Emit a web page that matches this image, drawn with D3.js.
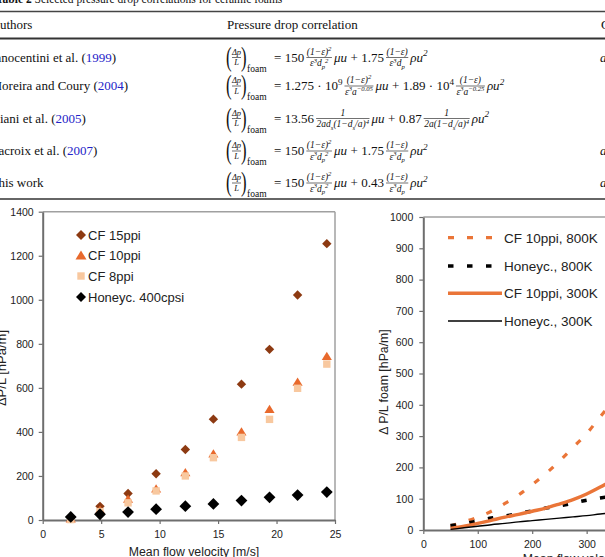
<!DOCTYPE html>
<html>
<head>
<meta charset="utf-8">
<script src="https://cdn.jsdelivr.net/npm/d3@7"></script>
<style>
body { margin: 0; background: #fff; }
svg { display: block; }
text { font-family: "Liberation Sans", Arial, sans-serif; fill: #222; }
.tbl text { font-family: "Liberation Serif", "Times New Roman", serif; fill: #111; }
</style>
</head>
<body>
<div id="fig"></div>
<script>
// ---- table (top, cropped) ----
const authorNames = ["Innocentini et al. (", "Moreira and Coury (", "Giani et al. (", "Lacroix et al. (", "This work"];
const authorYears = ["1999", "2004", "2005", "2007", ""];
const coefViscous = ["150", "1.275 · 10^{9}", "13.56", "150", "150"];
const fracViscous = [
    ["(1−ε)^{2}", "ε^{3}d_{p}^{2}"],
    ["(1−ε)^{2}", "ε^{3}a^{−0.05}"],
    ["1", "2ad_{s}(1−d_{s}/a)^{4}"],
    ["(1−ε)^{2}", "ε^{3}d_{p}^{2}"],
    ["(1−ε)^{2}", "ε^{3}d_{p}^{2}"]
];
const coefInertial = ["1.75", "1.89 · 10^{4}", "0.87", "1.75", "0.43"];
const fracInertial = [
    ["(1−ε)", "ε^{3}d_{p}"],
    ["(1−ε)", "ε^{3}a^{−0.25}"],
    ["1", "2a(1−d_{s}/a)^{4}"],
    ["(1−ε)", "ε^{3}d_{p}"],
    ["(1−ε)", "ε^{3}d_{p}"]
];
const lastCol = ["a", "", "", "a", "a"];

// ---- left chart: measured pressure drop ----
const velocity = [2.4, 4.9, 7.3, 9.7, 12.2, 14.6, 17.0, 19.4, 21.8, 24.3];
const cf15ppi = [10, 62, 120, 210, 320, 458, 617, 775, 1022, 1255];
const cf10ppi = [5, 45, 95, 142, 215, 300, 400, 503, 626, 743];
const cf8ppi = [2, 38, 78, 132, 200, 283, 375, 457, 598, 708];
const honey400 = [14, 26, 36, 49, 63, 73, 88, 103, 113, 127];
const pointNames = ["CF 15ppi", "CF 10ppi", "CF 8ppi", "Honeyc. 400cpsi"];
const velTicks = [0, 5, 10, 15, 20, 25];
const dpTicks = [0, 200, 400, 600, 800, 1000, 1200, 1400];

// ---- right chart: correlations at two temperatures ----
const flowVel = [50, 75, 100, 125, 150, 175, 200, 225, 250, 275, 300, 325, 350];
const cf10at800 = [13, 26, 41, 60, 85, 112, 145, 180, 220, 264, 308, 362, 415];
const honeyAt800 = [14, 20, 29, 38, 45, 52, 61, 70, 77, 86, 95, 102, 110];
const cf10at300 = [5, 12, 21, 31, 41, 50, 60, 70, 83, 97, 115, 137, 162];
const honeyAt300 = [2, 7, 12, 17, 21, 26, 30, 34, 38, 42, 46, 51, 55];
const lineNames = ["CF 10ppi, 800K", "Honeyc., 800K", "CF 10ppi, 300K", "Honeyc., 300K"];
const flowTicks = [0, 100, 200, 300, 400, 500, 600];
const foamTicks = [0, 100, 200, 300, 400, 500, 600, 700, 800, 900, 1000];

const W = 605, H = 557;
const svg = d3.select("#fig").append("svg").attr("width", W).attr("height", H);

const brown = "#8d3a12", orange = "#e8692c", peach = "#f8c89f", lineOrange = "#ea7538";
const axisGrey = "#6e6e6e", frameGrey = "#a0a0a0";

// small helper: text with ^{..} / _{..} markup as tspans
function rich(sel, s, size) {
    const re = /([_^])\{([^}]*)\}/g;
    let last = 0, m, cur = 0;
    const add = (str, off, small) => {
        if (!str) return;
        sel.append("tspan")
            .attr("dy", (off - cur) * size)
            .attr("font-size", small ? size * 0.7 : size)
            .text(str);
        cur = off;
    };
    while ((m = re.exec(s))) {
        add(s.slice(last, m.index), 0, false);
        add(m[2], m[1] === "^" ? -0.4 : 0.28, true);
        last = re.lastIndex;
    }
    add(s.slice(last), 0, false);
    return sel;
}

// ================= table =================
let tbl = svg.append("g").attr("class", "tbl");
tbl.append("text").attr("x", -4).attr("y", 3).attr("font-size", 11.5)
    .html("<tspan font-weight='bold'>Table 2</tspan>  Selected pressure drop correlations for ceramic foams");

tbl.append("line").attr("x1", 0).attr("x2", W).attr("y1", 11.5).attr("y2", 11.5)
    .attr("stroke", "#444").attr("stroke-width", 1.4);
tbl.append("line").attr("x1", 0).attr("x2", W).attr("y1", 38.5).attr("y2", 38.5)
    .attr("stroke", "#333").attr("stroke-width", 2.2);
tbl.append("line").attr("x1", 0).attr("x2", W).attr("y1", 199).attr("y2", 199)
    .attr("stroke", "#666").attr("stroke-width", 2.2);

tbl.append("text").attr("x", -9.5).attr("y", 28.5).attr("font-size", 13).text("Authors");
tbl.append("text").attr("x", 227).attr("y", 28.5).attr("font-size", 13).text("Pressure drop correlation");
tbl.append("text").attr("x", 601).attr("y", 28.5).attr("font-size", 13).text("Comments");

const rowBase = [61.5, 90, 122.5, 155, 187];
const fs = 13, ffs = 9.5;

function putText(g, x, yb, str, size, italic) {
    let t = g.append("text").attr("x", x).attr("y", yb).attr("font-size", size);
    if (italic) t.attr("font-style", "italic");
    rich(t, str, size);
    return t.node().getComputedTextLength();
}

function putFrac(g, x, yb, num, den) {
    let n = g.append("text").attr("y", yb - 7).attr("font-size", ffs).attr("text-anchor", "middle").attr("font-style", "italic");
    rich(n, num, ffs);
    let d = g.append("text").attr("y", yb + 4.8).attr("font-size", ffs).attr("text-anchor", "middle").attr("font-style", "italic");
    rich(d, den, ffs);
    let w = Math.max(n.node().getComputedTextLength(), d.node().getComputedTextLength()) + 1;
    n.attr("x", x + w / 2);
    d.attr("x", x + w / 2);
    g.append("line").attr("x1", x).attr("x2", x + w).attr("y1", yb - 4).attr("y2", yb - 4)
        .attr("stroke", "#111").attr("stroke-width", 0.6);
    return w;
}

authorNames.forEach((name, i) => {
    let yb = rowBase[i];
    let a = tbl.append("text").attr("x", -9.5).attr("y", yb).attr("font-size", fs);
    a.append("tspan").text(name);
    if (authorYears[i]) {
        a.append("tspan").attr("fill", "#2323c8").text(authorYears[i]);
        a.append("tspan").text(")");
    }

    let g = tbl.append("g");
    // (Δp/L)_foam
    g.append("text").attr("transform", "translate(226," + (yb + 4) + ") scale(0.62,1)")
        .attr("font-size", 27).text("(");
    g.append("text").attr("x", 236.5).attr("y", yb - 7).attr("font-size", 8.5)
        .attr("text-anchor", "middle").attr("font-style", "italic").text("Δp");
    g.append("text").attr("x", 236.5).attr("y", yb + 3.5).attr("font-size", 8.5)
        .attr("text-anchor", "middle").attr("font-style", "italic").text("L");
    g.append("line").attr("x1", 232).attr("x2", 241).attr("y1", yb - 4).attr("y2", yb - 4)
        .attr("stroke", "#111").attr("stroke-width", 0.6);
    g.append("text").attr("transform", "translate(241," + (yb + 4) + ") scale(0.62,1)")
        .attr("font-size", 27).text(")");
    g.append("text").attr("x", 247).attr("y", yb + 10).attr("font-size", 9.5).text("foam");

    let x = 274;
    x += putText(g, x, yb, "=", fs) + 3.5;
    x += putText(g, x, yb, coefViscous[i], fs) + 2;
    x += putFrac(g, x, yb, fracViscous[i][0], fracViscous[i][1]) + 2;
    x += putText(g, x, yb, "μu", fs, true) + 3.5;
    x += putText(g, x, yb, "+", fs) + 3.5;
    x += putText(g, x, yb, coefInertial[i], fs) + 2;
    x += putFrac(g, x, yb, fracInertial[i][0], fracInertial[i][1]) + 2;
    putText(g, x, yb, "ρu^{2}", fs, true);

    if (lastCol[i]) {
        tbl.append("text").attr("x", 600).attr("y", yb).attr("font-size", fs)
            .attr("font-style", "italic").text(lastCol[i]);
    }
});

// ================= left chart =================
let x1 = d3.scaleLinear().domain([0, 25]).range([42.7, 335]);
let y1 = d3.scaleLinear().domain([0, 1400]).range([520, 211.7]);

let c1 = svg.append("g");
c1.append("line").attr("x1", x1(0)).attr("x2", x1(25)).attr("y1", y1(1400)).attr("y2", y1(1400))
    .attr("stroke", frameGrey).attr("stroke-width", 1.5);
c1.append("line").attr("x1", x1(25)).attr("x2", x1(25)).attr("y1", y1(1400)).attr("y2", y1(0))
    .attr("stroke", frameGrey).attr("stroke-width", 1.5);

function styleAxis(g) {
    g.select(".domain").attr("stroke", axisGrey).attr("stroke-width", 2);
    g.selectAll(".tick line").attr("stroke", axisGrey).attr("stroke-width", 1.2);
    g.selectAll(".tick text").attr("font-size", 10.5).attr("fill", "#333")
        .attr("font-family", "Liberation Sans, Arial, sans-serif");
}

const fmt = d3.format("d");

c1.append("g").attr("transform", "translate(0," + y1(0) + ")")
    .call(d3.axisBottom(x1).tickValues(velTicks).tickFormat(fmt).tickSize(4).tickSizeOuter(0).tickPadding(7))
    .call(styleAxis);
c1.append("g").attr("transform", "translate(" + x1(0) + ",0)")
    .call(d3.axisLeft(y1).tickValues(dpTicks).tickFormat(fmt).tickSize(4).tickSizeOuter(0).tickPadding(5))
    .call(styleAxis);

c1.append("text").attr("x", 194).attr("y", 556).attr("text-anchor", "middle")
    .attr("font-size", 12.3).attr("fill", "#333").text("Mean flow velocity [m/s]");
c1.append("text").attr("transform", "translate(5.5,368) rotate(-90)").attr("text-anchor", "middle")
    .attr("font-size", 13).attr("fill", "#333").text("ΔP/L [hPa/m]");

function diamond(cx, cy, r) {
    return "M" + cx + "," + (cy - r) + "L" + (cx + r) + "," + cy + "L" + cx + "," + (cy + r) + "L" + (cx - r) + "," + cy + "Z";
}
function triangle(cx, cy, r) {
    return "M" + cx + "," + (cy - r) + "L" + (cx + r * 1.1) + "," + (cy + r * 0.8) + "L" + (cx - r * 1.1) + "," + (cy + r * 0.8) + "Z";
}
function square(cx, cy, r) {
    return "M" + (cx - r) + "," + (cy - r) + "h" + 2 * r + "v" + 2 * r + "h" + (-2 * r) + "Z";
}

const pointSeries = [
    {vals: cf15ppi, shape: diamond, r: 4.7, color: brown},
    {vals: cf10ppi, shape: triangle, r: 4.6, color: orange},
    {vals: cf8ppi, shape: square, r: 3.7, color: peach},
    {vals: honey400, shape: diamond, r: 5.9, color: "#000"}
];

pointSeries.forEach((s) => {
    c1.append("g").selectAll("path")
        .data(velocity.map((v, i) => [v, s.vals[i]]))
        .enter().append("path")
        .attr("d", (d) => s.shape(x1(d[0]), y1(d[1]), s.r))
        .attr("fill", s.color);
});

// legend left
const legY1 = [235, 255.5, 276, 297];
pointSeries.forEach((s, i) => {
    c1.append("path").attr("d", s.shape(81, legY1[i], i === 2 ? 3.7 : 5))
        .attr("fill", s.color);
    c1.append("text").attr("x", 88).attr("y", legY1[i] + 4.7).attr("font-size", 13)
        .attr("fill", "#222").text(pointNames[i]);
});

// ================= right chart =================
let x2 = d3.scaleLinear().domain([0, 600]).range([423.3, 750]);
let y2 = d3.scaleLinear().domain([0, 1000]).range([530, 217]);

let c2 = svg.append("g");
c2.append("line").attr("x1", x2(0)).attr("x2", x2(600)).attr("y1", y2(1000)).attr("y2", y2(1000))
    .attr("stroke", frameGrey).attr("stroke-width", 1.5);

c2.append("g").attr("transform", "translate(0," + y2(0) + ")")
    .call(d3.axisBottom(x2).tickValues(flowTicks).tickFormat(fmt).tickSize(4).tickSizeOuter(0).tickPadding(7))
    .call(styleAxis);
c2.append("g").attr("transform", "translate(" + x2(0) + ",0)")
    .call(d3.axisLeft(y2).tickValues(foamTicks).tickFormat(fmt).tickSize(4).tickSizeOuter(0).tickPadding(6))
    .call(styleAxis);

c2.append("text").attr("x", 588).attr("y", 563).attr("text-anchor", "middle")
    .attr("font-size", 12.3).attr("fill", "#333").text("Mean flow velocity [m/s]");
c2.append("text").attr("transform", "translate(388,382) rotate(-90)").attr("text-anchor", "middle")
    .attr("font-size", 12.3).attr("fill", "#333").text("Δ P/L foam [hPa/m]");

const lineSeries = [
    {vals: cf10at800, color: lineOrange, w: 3.2, dash: "6,13"},
    {vals: honeyAt800, color: "#000", w: 3.6, dash: "5.5,13.5"},
    {vals: cf10at300, color: lineOrange, w: 3.4, dash: null},
    {vals: honeyAt300, color: "#000", w: 1.4, dash: null}
];

let line2 = d3.line()
    .x((d) => x2(d[0]))
    .y((d) => y2(d[1]))
    .curve(d3.curveMonotoneX);

lineSeries.forEach((s) => {
    c2.append("path")
        .datum(flowVel.map((v, i) => [v, s.vals[i]]))
        .attr("d", line2)
        .attr("fill", "none")
        .attr("stroke", s.color)
        .attr("stroke-width", s.w)
        .attr("stroke-dasharray", s.dash);
});

// legend right
const legY2 = [237.7, 266, 293.3, 321];
lineSeries.forEach((s, i) => {
    c2.append("line").attr("x1", 448).attr("x2", 502).attr("y1", legY2[i]).attr("y2", legY2[i])
        .attr("stroke", s.color).attr("stroke-width", s.w).attr("stroke-dasharray", s.dash);
    c2.append("text").attr("x", 504).attr("y", legY2[i] + 4.8).attr("font-size", 13.5)
        .attr("fill", "#222").text(lineNames[i]);
});
</script>
</body>
</html>
